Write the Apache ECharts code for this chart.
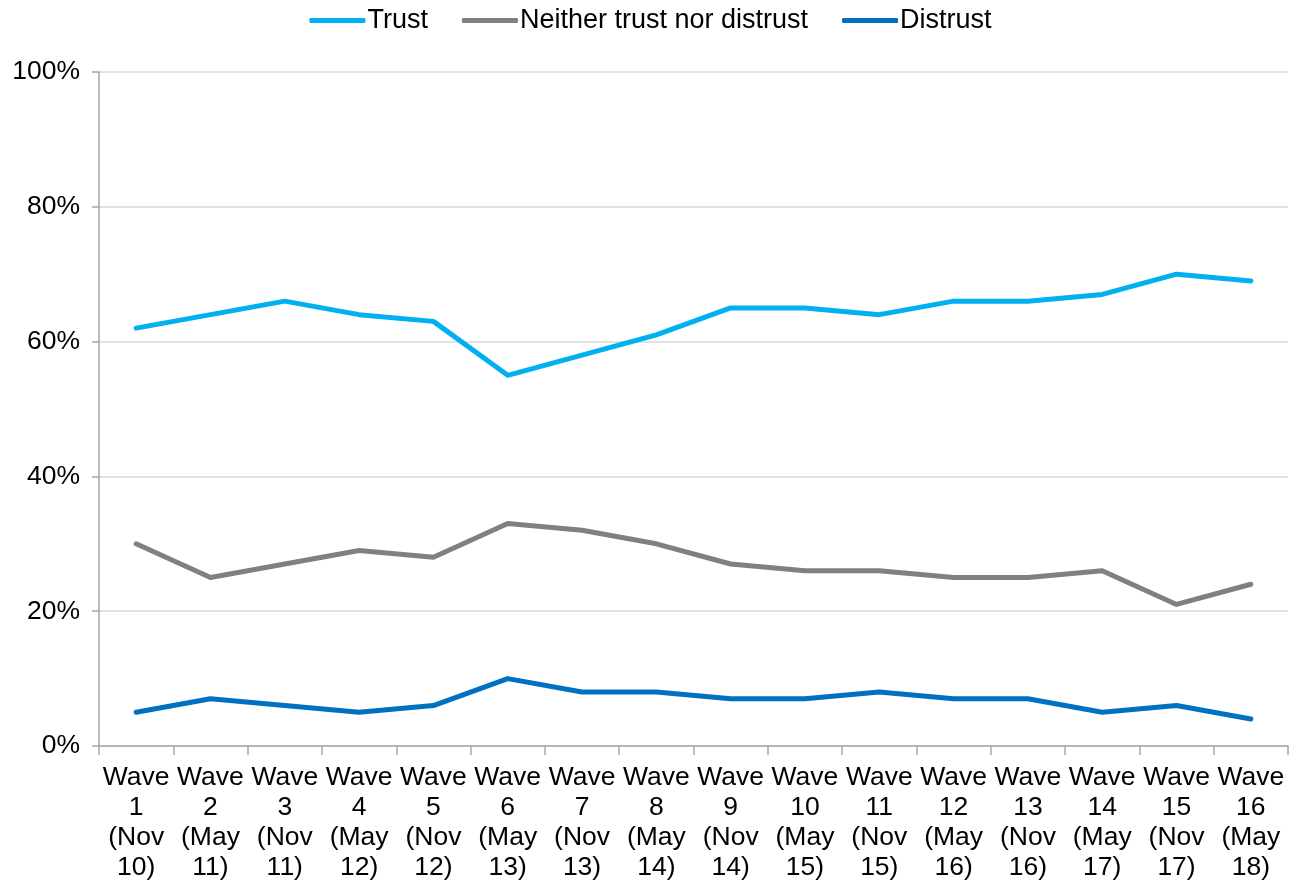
<!DOCTYPE html>
<html>
<head>
<meta charset="utf-8">
<script src="https://cdn.jsdelivr.net/npm/echarts@6/dist/echarts.min.js"></script>
<style>
  html, body { margin: 0; padding: 0; background: #fff; }
  #chart { width: 1301px; height: 887px; }
</style>
</head>
<body>
<div id="chart"></div>
<script>
const waves = [
  'Wave\n1\n(Nov\n10)', 'Wave\n2\n(May\n11)', 'Wave\n3\n(Nov\n11)', 'Wave\n4\n(May\n12)',
  'Wave\n5\n(Nov\n12)', 'Wave\n6\n(May\n13)', 'Wave\n7\n(Nov\n13)', 'Wave\n8\n(May\n14)',
  'Wave\n9\n(Nov\n14)', 'Wave\n10\n(May\n15)', 'Wave\n11\n(Nov\n15)', 'Wave\n12\n(May\n16)',
  'Wave\n13\n(Nov\n16)', 'Wave\n14\n(May\n17)', 'Wave\n15\n(Nov\n17)', 'Wave\n16\n(May\n18)'
];
const trust = [62, 64, 66, 64, 63, 55, 58, 61, 65, 65, 64, 66, 66, 67, 70, 69];
const neither = [30, 25, 27, 29, 28, 33, 32, 30, 27, 26, 26, 25, 25, 26, 21, 24];
const distrust = [5, 7, 6, 5, 6, 10, 8, 8, 7, 7, 8, 7, 7, 5, 6, 4];

const chart = echarts.init(document.getElementById('chart'));

const makeLine = (name, data, color) => ({
  name: name,
  type: 'line',
  data: data,
  symbol: 'none',
  lineStyle: { width: 5, color: color, cap: 'round', join: 'round' },
  itemStyle: { color: color }
});

chart.setOption({
  animation: false,
  textStyle: { fontFamily: 'Liberation Sans, Arial, sans-serif' },
  legend: {
    top: 2,
    left: 'center',
    icon: 'roundRect',
    itemWidth: 56,
    itemHeight: 5,
    itemGap: 34,
    textStyle: { fontSize: 27, color: '#000', padding: [0, 0, 0, -3] },
    data: ['Trust', 'Neither trust nor distrust', 'Distrust']
  },
  grid: { left: 99, right: 13, top: 72, bottom: 141 },
  xAxis: {
    type: 'category',
    data: waves,
    boundaryGap: true,
    axisLine: { lineStyle: { color: '#A6A6A6', width: 1.5 } },
    axisTick: { show: true, length: 9, lineStyle: { color: '#A6A6A6', width: 1.5 } },
    axisLabel: { interval: 0, fontSize: 26.5, lineHeight: 30, color: '#000', margin: 17 }
  },
  yAxis: {
    type: 'value',
    min: 0,
    max: 100,
    interval: 20,
    axisLine: { show: true, lineStyle: { color: '#A6A6A6', width: 1.5 } },
    axisTick: { show: true, length: 7, lineStyle: { color: '#A6A6A6', width: 1.5 } },
    splitLine: { lineStyle: { color: '#D9D9D9', width: 1.5 } },
    axisLabel: { formatter: '{value}%', fontSize: 26.5, color: '#000', margin: 19 }
  },
  series: [
    makeLine('Trust', trust, '#00B0F0'),
    makeLine('Neither trust nor distrust', neither, '#808080'),
    makeLine('Distrust', distrust, '#0070C0')
  ]
});
</script>
</body>
</html>
